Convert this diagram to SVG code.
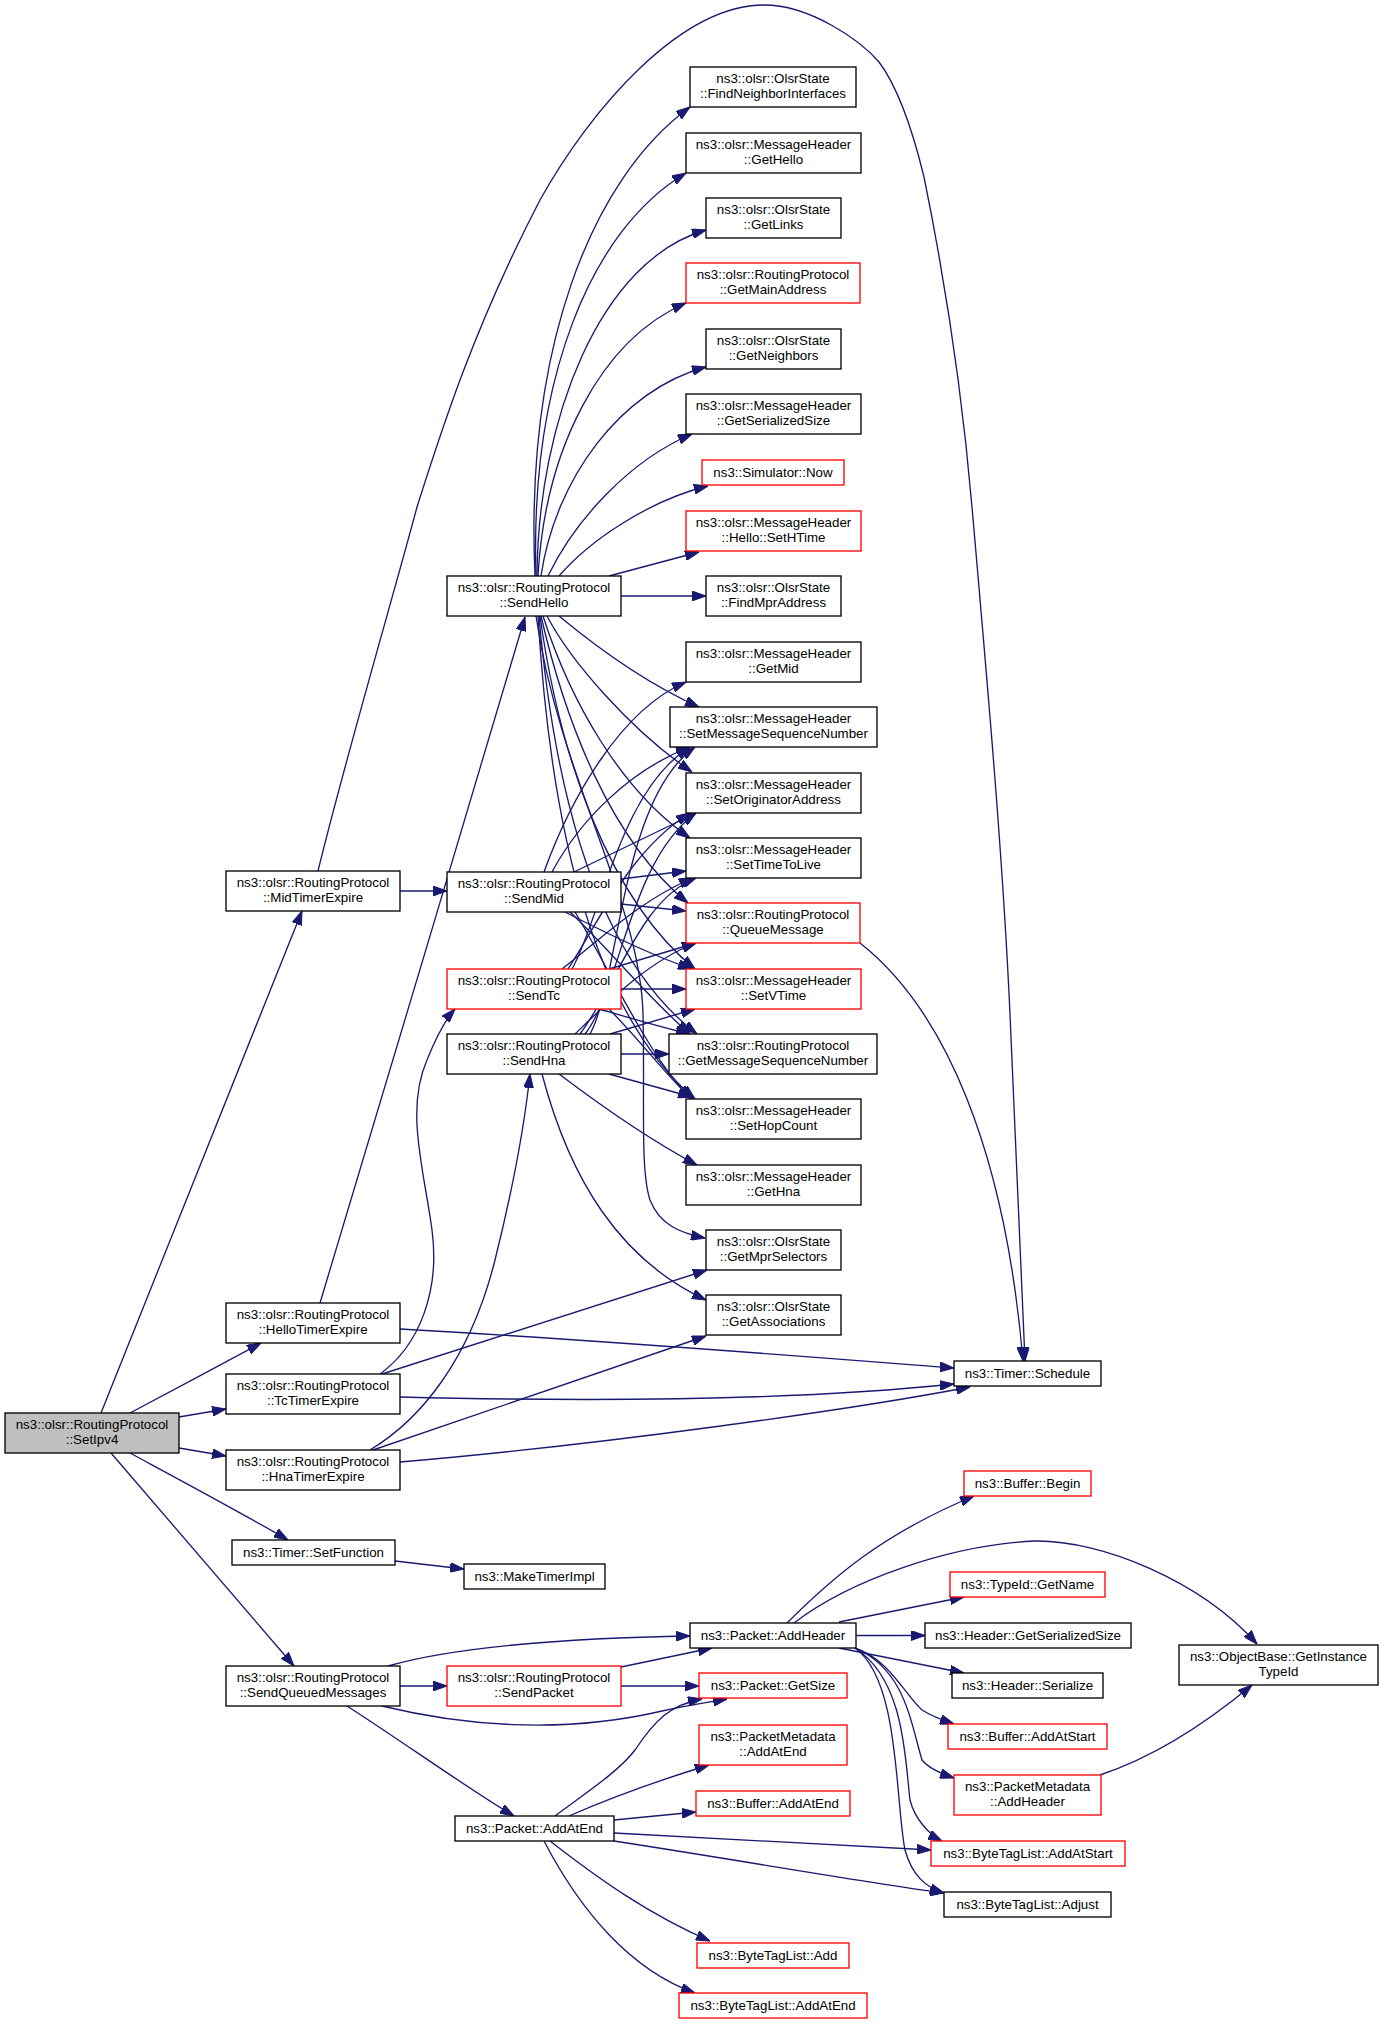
<svg xmlns="http://www.w3.org/2000/svg" width="1384" height="2025" viewBox="0 0 1384 2025">
<style>
.n{fill:#fff;stroke:#000;stroke-width:1.33}
.r{fill:#fff;stroke:#ff0000;stroke-width:1.33}
.root{fill:#bfbfbf;stroke:#000;stroke-width:1.33}
.t{font-family:"Liberation Sans",Arial,Helvetica,sans-serif;font-size:13.33px;text-anchor:middle;fill:#000}
.e{fill:none;stroke:#191970;stroke-width:1.33;marker-end:url(#a)}
</style>
<defs>
<marker id="a" markerUnits="userSpaceOnUse" markerWidth="14" markerHeight="10" viewBox="0 0 13.3 9.3" refX="13.3" refY="4.65" orient="auto"><path d="M0,0 L13.3,4.65 L0,9.3 z" fill="#191970" stroke="#191970" stroke-width="1"/></marker>
</defs>
<rect width="1384" height="2025" fill="#fff"/>
<g id="edges">
<!-- SetIpv4 -->
<path class="e" d="M101,1413 L302,911"/>
<path class="e" d="M130,1413 C170,1392 220,1365 261,1343"/>
<path class="e" d="M179,1417 L226,1409"/>
<path class="e" d="M179,1448 L226,1456"/>
<path class="e" d="M130,1453 C180,1480 240,1512 288,1540"/>
<path class="e" d="M111,1453 L294,1666"/>
<!-- MidTimerExpire -->
<path class="e" d="M400,891 L447,891"/>
<path class="e" d="M318,871 C345,760 395,590 417,507 C442,428 475,325 540,200 C590,110 680,5 764,5 C810,5 860,40 879,62 C900,90 915,140 924,177 C945,280 962,390 972,507 C988,690 1003,860 1010,1014 C1016,1150 1022,1280 1025,1361"/>
<!-- HelloTimerExpire -->
<path class="e" d="M320,1303 C370,1140 470,800 525,617"/>
<path class="e" d="M400,1329 C600,1340 850,1360 954,1368"/>
<!-- TcTimerExpire -->
<path class="e" d="M380,1374 C420,1345 440,1290 432,1230 C424,1170 405,1110 427,1060 C435,1040 445,1020 455,1009"/>
<path class="e" d="M382,1374 L707,1270"/>
<path class="e" d="M400,1397 C600,1402 800,1400 954,1384"/>
<!-- HnaTimerExpire -->
<path class="e" d="M370,1450 C420,1420 470,1360 495,1260 C515,1180 525,1120 530,1074"/>
<path class="e" d="M373,1450 L706,1336"/>
<path class="e" d="M400,1462 C600,1445 850,1410 970,1387"/>
<!-- SendHello -->
<path class="e" d="M535,576 C525,350 590,180 690,107"/>
<path class="e" d="M536,576 C530,380 590,230 686,173"/>
<path class="e" d="M537,576 C538,420 600,260 706,230"/>
<path class="e" d="M538,576 C545,450 600,340 686,303"/>
<path class="e" d="M541,576 C555,480 620,390 706,367"/>
<path class="e" d="M548,576 C575,520 630,460 692,434"/>
<path class="e" d="M559,576 C590,540 650,500 708,486"/>
<path class="e" d="M609,576 L699,552"/>
<path class="e" d="M621,596 L706,596"/>
<path class="e" d="M559,616 C600,650 650,685 699,707"/>
<path class="e" d="M547,616 C570,660 630,730 692,772"/>
<path class="e" d="M543,616 C570,700 620,790 690,838"/>
<path class="e" d="M541,616 C565,720 610,840 688,903"/>
<path class="e" d="M540,616 C560,760 610,900 695,969"/>
<path class="e" d="M539,616 C555,800 600,960 697,1034"/>
<path class="e" d="M538,616 C550,820 590,1010 695,1099"/>
<path class="e" d="M536,616 C560,780 640,900 643,1014 C645,1100 640,1170 650,1200 C660,1225 680,1233 705,1238"/>
<!-- SendMid -->
<path class="e" d="M544,872 C570,800 620,710 686,682"/>
<path class="e" d="M552,872 C580,820 630,770 690,747"/>
<path class="e" d="M574,872 L696,813"/>
<path class="e" d="M621,879 L686,871"/>
<path class="e" d="M621,904 L686,911"/>
<path class="e" d="M565,912 C600,930 650,955 692,969"/>
<path class="e" d="M570,912 C610,950 650,1000 690,1034"/>
<path class="e" d="M575,912 C610,970 650,1060 692,1099"/>
<!-- SendTc -->
<path class="e" d="M572,969 C600,920 620,790 690,747"/>
<path class="e" d="M568,969 C600,920 630,850 690,813"/>
<path class="e" d="M562,969 C600,940 640,900 693,878"/>
<path class="e" d="M609,969 L696,943"/>
<path class="e" d="M621,989 L686,989"/>
<path class="e" d="M599,1009 C630,1018 660,1027 690,1034"/>
<path class="e" d="M609,1009 C640,1040 670,1080 692,1099"/>
<!-- SendHna -->
<path class="e" d="M590,1034 C620,980 620,800 695,747"/>
<path class="e" d="M585,1034 C620,990 630,860 696,813"/>
<path class="e" d="M580,1034 C620,980 640,900 696,878"/>
<path class="e" d="M575,1034 C610,1000 650,960 696,943"/>
<path class="e" d="M610,1034 L695,1009"/>
<path class="e" d="M621,1054 L669,1054"/>
<path class="e" d="M609,1074 L692,1097"/>
<path class="e" d="M559,1074 C600,1105 650,1140 697,1165"/>
<path class="e" d="M542,1074 C570,1180 620,1260 706,1300"/>
<!-- QueueMessage -->
<path class="e" d="M860,943 C945,1010 1005,1150 1023,1361"/>
<!-- SetFunction -->
<path class="e" d="M395,1561 L464,1569"/>
<!-- SendQueuedMessages -->
<path class="e" d="M388,1666 C450,1648 560,1638 690,1636"/>
<path class="e" d="M400,1686 L447,1686"/>
<path class="e" d="M382,1706 C460,1725 560,1735 662,1711 C690,1705 710,1702 727,1699"/>
<path class="e" d="M347,1706 C400,1740 470,1790 514,1816"/>
<!-- SendPacket -->
<path class="e" d="M621,1667 L712,1648"/>
<path class="e" d="M621,1686 L699,1686"/>
<!-- AddAtEnd -->
<path class="e" d="M555,1816 C590,1790 620,1770 635,1750 C655,1720 670,1705 702,1699"/>
<path class="e" d="M569,1816 C610,1798 660,1780 709,1765"/>
<path class="e" d="M614,1820 L696,1812"/>
<path class="e" d="M614,1833 L931,1850"/>
<path class="e" d="M614,1841 C750,1862 850,1880 944,1893"/>
<path class="e" d="M550,1841 C600,1880 650,1915 710,1941"/>
<path class="e" d="M544,1841 C580,1910 630,1970 695,1993"/>
<!-- AddHeader -->
<path class="e" d="M787,1623 C830,1580 880,1535 974,1496"/>
<path class="e" d="M794,1623 C850,1580 950,1545 1035,1541 C1100,1540 1200,1580 1257,1644"/>
<path class="e" d="M839,1622 L964,1597"/>
<path class="e" d="M856,1635.5 L925,1635.5"/>
<path class="e" d="M839,1648 L964,1673"/>
<path class="e" d="M855,1648 C890,1660 905,1695 922,1710 C935,1718 945,1721 954,1724"/>
<path class="e" d="M855,1648 C905,1670 910,1720 922,1760 C930,1770 945,1775 954,1778"/>
<path class="e" d="M855,1648 C905,1680 905,1760 910,1800 C915,1820 930,1835 942,1841"/>
<path class="e" d="M855,1648 C900,1680 895,1800 905,1850 C912,1875 925,1887 944,1893"/>
<!-- PacketMetadata::AddHeader -->
<path class="e" d="M1100,1775 C1160,1755 1210,1720 1252,1685"/>
</g>
<g id="setipv4"><rect class="root" x="5" y="1413" width="174" height="40"/><text class="t" x="92" y="1429.3">ns3::olsr::RoutingProtocol</text><text class="t" x="92" y="1444">::SetIpv4</text></g>
<g id="midtimerexpire"><rect class="n" x="226" y="871" width="174" height="40"/><text class="t" x="313" y="887.3">ns3::olsr::RoutingProtocol</text><text class="t" x="313" y="902">::MidTimerExpire</text></g>
<g id="hellotimerexpire"><rect class="n" x="226" y="1303" width="174" height="40"/><text class="t" x="313" y="1319.3">ns3::olsr::RoutingProtocol</text><text class="t" x="313" y="1334">::HelloTimerExpire</text></g>
<g id="tctimerexpire"><rect class="n" x="226" y="1374" width="174" height="40"/><text class="t" x="313" y="1390.3">ns3::olsr::RoutingProtocol</text><text class="t" x="313" y="1405">::TcTimerExpire</text></g>
<g id="hnatimerexpire"><rect class="n" x="226" y="1450" width="174" height="40"/><text class="t" x="313" y="1466.3">ns3::olsr::RoutingProtocol</text><text class="t" x="313" y="1481">::HnaTimerExpire</text></g>
<g id="setfunction"><rect class="n" x="232" y="1540" width="163" height="25"/><text class="t" x="313.5" y="1556.5">ns3::Timer::SetFunction</text></g>
<g id="sendqueuedmessages"><rect class="n" x="226" y="1666" width="174" height="40"/><text class="t" x="313" y="1682.3">ns3::olsr::RoutingProtocol</text><text class="t" x="313" y="1697">::SendQueuedMessages</text></g>
<g id="sendhello"><rect class="n" x="447" y="576" width="174" height="40"/><text class="t" x="534" y="592.3">ns3::olsr::RoutingProtocol</text><text class="t" x="534" y="607">::SendHello</text></g>
<g id="sendmid"><rect class="n" x="447" y="872" width="174" height="40"/><text class="t" x="534" y="888.3">ns3::olsr::RoutingProtocol</text><text class="t" x="534" y="903">::SendMid</text></g>
<g id="sendtc"><rect class="r" x="447" y="969" width="174" height="40"/><text class="t" x="534" y="985.3">ns3::olsr::RoutingProtocol</text><text class="t" x="534" y="1000">::SendTc</text></g>
<g id="sendhna"><rect class="n" x="447" y="1034" width="174" height="40"/><text class="t" x="534" y="1050.3">ns3::olsr::RoutingProtocol</text><text class="t" x="534" y="1065">::SendHna</text></g>
<g id="maketimerimpl"><rect class="n" x="464" y="1564" width="141" height="25"/><text class="t" x="534.5" y="1580.5">ns3::MakeTimerImpl</text></g>
<g id="sendpacket"><rect class="r" x="447" y="1666" width="174" height="40"/><text class="t" x="534" y="1682.3">ns3::olsr::RoutingProtocol</text><text class="t" x="534" y="1697">::SendPacket</text></g>
<g id="packetaddatend"><rect class="n" x="455" y="1816" width="159" height="25"/><text class="t" x="534.5" y="1832.5">ns3::Packet::AddAtEnd</text></g>
<g id="findneighborinterfaces"><rect class="n" x="690" y="67" width="166" height="40"/><text class="t" x="773" y="83.3">ns3::olsr::OlsrState</text><text class="t" x="773" y="98">::FindNeighborInterfaces</text></g>
<g id="gethello"><rect class="n" x="686" y="133" width="175" height="40"/><text class="t" x="773.5" y="149.3">ns3::olsr::MessageHeader</text><text class="t" x="773.5" y="164">::GetHello</text></g>
<g id="getlinks"><rect class="n" x="706" y="198" width="135" height="40"/><text class="t" x="773.5" y="214.3">ns3::olsr::OlsrState</text><text class="t" x="773.5" y="229">::GetLinks</text></g>
<g id="getmainaddress"><rect class="r" x="686" y="263" width="174" height="40"/><text class="t" x="773" y="279.3">ns3::olsr::RoutingProtocol</text><text class="t" x="773" y="294">::GetMainAddress</text></g>
<g id="getneighbors"><rect class="n" x="706" y="329" width="135" height="40"/><text class="t" x="773.5" y="345.3">ns3::olsr::OlsrState</text><text class="t" x="773.5" y="360">::GetNeighbors</text></g>
<g id="getserializedsize"><rect class="n" x="686" y="394" width="175" height="40"/><text class="t" x="773.5" y="410.3">ns3::olsr::MessageHeader</text><text class="t" x="773.5" y="425">::GetSerializedSize</text></g>
<g id="simulatornow"><rect class="r" x="702" y="460" width="142" height="25"/><text class="t" x="773" y="476.5">ns3::Simulator::Now</text></g>
<g id="sethtime"><rect class="r" x="686" y="511" width="175" height="40"/><text class="t" x="773.5" y="527.3">ns3::olsr::MessageHeader</text><text class="t" x="773.5" y="542">::Hello::SetHTime</text></g>
<g id="findmpraddress"><rect class="n" x="706" y="576" width="135" height="40"/><text class="t" x="773.5" y="592.3">ns3::olsr::OlsrState</text><text class="t" x="773.5" y="607">::FindMprAddress</text></g>
<g id="getmid"><rect class="n" x="686" y="642" width="175" height="40"/><text class="t" x="773.5" y="658.3">ns3::olsr::MessageHeader</text><text class="t" x="773.5" y="673">::GetMid</text></g>
<g id="setmessagesequencenumber"><rect class="n" x="670" y="707" width="207" height="40"/><text class="t" x="773.5" y="723.3">ns3::olsr::MessageHeader</text><text class="t" x="773.5" y="738">::SetMessageSequenceNumber</text></g>
<g id="setoriginatoraddress"><rect class="n" x="686" y="773" width="175" height="40"/><text class="t" x="773.5" y="789.3">ns3::olsr::MessageHeader</text><text class="t" x="773.5" y="804">::SetOriginatorAddress</text></g>
<g id="settimetolive"><rect class="n" x="686" y="838" width="175" height="40"/><text class="t" x="773.5" y="854.3">ns3::olsr::MessageHeader</text><text class="t" x="773.5" y="869">::SetTimeToLive</text></g>
<g id="queuemessage"><rect class="r" x="686" y="903" width="174" height="40"/><text class="t" x="773" y="919.3">ns3::olsr::RoutingProtocol</text><text class="t" x="773" y="934">::QueueMessage</text></g>
<g id="setvtime"><rect class="r" x="686" y="969" width="175" height="40"/><text class="t" x="773.5" y="985.3">ns3::olsr::MessageHeader</text><text class="t" x="773.5" y="1000">::SetVTime</text></g>
<g id="getmessagesequencenumber"><rect class="n" x="669" y="1034" width="208" height="40"/><text class="t" x="773" y="1050.3">ns3::olsr::RoutingProtocol</text><text class="t" x="773" y="1065">::GetMessageSequenceNumber</text></g>
<g id="sethopcount"><rect class="n" x="686" y="1099" width="175" height="40"/><text class="t" x="773.5" y="1115.3">ns3::olsr::MessageHeader</text><text class="t" x="773.5" y="1130">::SetHopCount</text></g>
<g id="gethna"><rect class="n" x="686" y="1165" width="175" height="40"/><text class="t" x="773.5" y="1181.3">ns3::olsr::MessageHeader</text><text class="t" x="773.5" y="1196">::GetHna</text></g>
<g id="getmprselectors"><rect class="n" x="706" y="1230" width="135" height="40"/><text class="t" x="773.5" y="1246.3">ns3::olsr::OlsrState</text><text class="t" x="773.5" y="1261">::GetMprSelectors</text></g>
<g id="getassociations"><rect class="n" x="706" y="1295" width="135" height="40"/><text class="t" x="773.5" y="1311.3">ns3::olsr::OlsrState</text><text class="t" x="773.5" y="1326">::GetAssociations</text></g>
<g id="timerschedule"><rect class="n" x="954" y="1361" width="147" height="25"/><text class="t" x="1027.5" y="1377.5">ns3::Timer::Schedule</text></g>
<g id="bufferbegin"><rect class="r" x="964" y="1471" width="127" height="25"/><text class="t" x="1027.5" y="1487.5">ns3::Buffer::Begin</text></g>
<g id="packetaddheader"><rect class="n" x="690" y="1623" width="166" height="25"/><text class="t" x="773" y="1639.5">ns3::Packet::AddHeader</text></g>
<g id="packetgetsize"><rect class="r" x="699" y="1673" width="148" height="25"/><text class="t" x="773" y="1689.5">ns3::Packet::GetSize</text></g>
<g id="packetmetadataaddatend"><rect class="r" x="699" y="1725" width="148" height="40"/><text class="t" x="773" y="1741.3">ns3::PacketMetadata</text><text class="t" x="773" y="1756">::AddAtEnd</text></g>
<g id="bufferaddatend"><rect class="r" x="696" y="1791" width="154" height="25"/><text class="t" x="773" y="1807.5">ns3::Buffer::AddAtEnd</text></g>
<g id="bytetaglistadd"><rect class="r" x="697" y="1943" width="152" height="25"/><text class="t" x="773" y="1959.5">ns3::ByteTagList::Add</text></g>
<g id="bytetaglistaddatend"><rect class="r" x="679" y="1993" width="188" height="25"/><text class="t" x="773" y="2009.5">ns3::ByteTagList::AddAtEnd</text></g>
<g id="typeidgetname"><rect class="r" x="950" y="1572" width="155" height="25"/><text class="t" x="1027.5" y="1588.5">ns3::TypeId::GetName</text></g>
<g id="headergetserializedsize"><rect class="n" x="925" y="1623" width="206" height="25"/><text class="t" x="1028" y="1639.5">ns3::Header::GetSerializedSize</text></g>
<g id="headerserialize"><rect class="n" x="952" y="1673" width="151" height="25"/><text class="t" x="1027.5" y="1689.5">ns3::Header::Serialize</text></g>
<g id="bufferaddatstart"><rect class="r" x="948" y="1724" width="159" height="25"/><text class="t" x="1027.5" y="1740.5">ns3::Buffer::AddAtStart</text></g>
<g id="packetmetadataaddheader"><rect class="r" x="954" y="1775" width="147" height="40"/><text class="t" x="1027.5" y="1791.3">ns3::PacketMetadata</text><text class="t" x="1027.5" y="1806">::AddHeader</text></g>
<g id="bytetaglistaddatstart"><rect class="r" x="931" y="1841" width="194" height="25"/><text class="t" x="1028" y="1857.5">ns3::ByteTagList::AddAtStart</text></g>
<g id="bytetaglistadjust"><rect class="n" x="944" y="1892" width="167" height="25"/><text class="t" x="1027.5" y="1908.5">ns3::ByteTagList::Adjust</text></g>
<g id="getinstancetypeid"><rect class="n" x="1179" y="1645" width="199" height="40"/><text class="t" x="1278.5" y="1661.3">ns3::ObjectBase::GetInstance</text><text class="t" x="1278.5" y="1676">TypeId</text></g>
</svg>
